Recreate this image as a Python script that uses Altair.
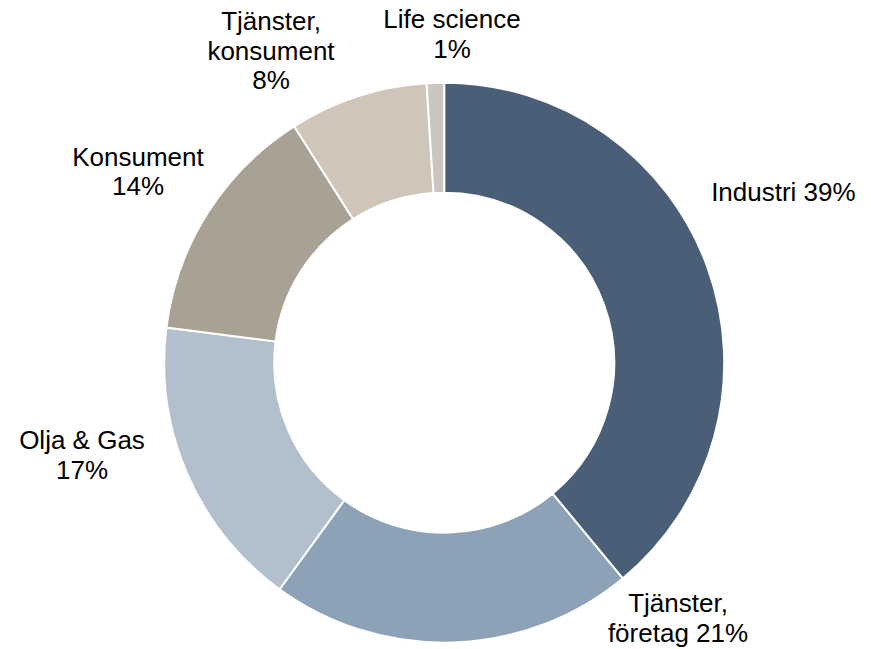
import altair as alt
import pandas as pd

# ---- data ----
categories = ["Industri", "Tjänster, företag", "Olja & Gas", "Konsument", "Tjänster, konsument", "Life science"]
values = [39, 21, 17, 14, 8, 1]
label_names = ["Industri", "Tjänster,\nföretag", "Olja & Gas", "Konsument", "Tjänster,\nkonsument", "Life science"]
label_seps = [" ", " ", "\n", "\n", "\n", "\n"]

# ---- styles / layout ----
colors = ["#4A5E77", "#8DA2B6", "#B2C0CE", "#A9A194", "#CFC6B9", "#C9C6C0"]
CENTER = (436.2, 354.7)
OUTER_R = 280
INNER_R = 170
FONT = "Liberation Sans"
FONT_SIZE = 26
LINE_H = 29.5
# label anchors: (center x, first-line baseline y) in chart pixels
label_anchor = {
    "Industri": (775.4, 193.0),
    "Tjänster, företag": (670.0, 604.0),
    "Olja & Gas": (74.0, 441.0),
    "Konsument": (130.0, 157.7),
    "Tjänster, konsument": (263.0, 22.3),
    "Life science": (444.0, 20.0),
}

df = pd.DataFrame({
    "cat": categories,
    "value": values,
    "idx": list(range(len(categories))),
    "label": [n + s + f"{v}%" for n, s, v in zip(label_names, label_seps, values)],
})

arc = alt.Chart(df).mark_arc(
    innerRadius=INNER_R, outerRadius=OUTER_R, stroke="white", strokeWidth=2
).encode(
    theta=alt.Theta("value:Q", stack=True),
    order=alt.Order("idx:Q"),
    color=alt.Color("cat:N", scale=alt.Scale(domain=categories, range=colors), legend=None),
    x=alt.value(CENTER[0]),
    y=alt.value(CENTER[1]),
)

layers = [arc]
for c in categories:
    ax, ay = label_anchor[c]
    layers.append(
        alt.Chart(df).transform_filter(alt.datum.cat == c).mark_text(
            font=FONT, fontSize=FONT_SIZE, color="#000000", align="center",
            baseline="alphabetic", lineBreak="\n", lineHeight=LINE_H,
        ).encode(x=alt.value(ax), y=alt.value(ay), text="label:N")
    )

chart = alt.layer(*layers).properties(
    width=855, height=641,
    autosize=alt.AutoSizeParams(type="none"),
    padding=0,
).configure_view(stroke=None)

chart.save("out.html", embed_options={"renderer": "svg", "actions": False})
